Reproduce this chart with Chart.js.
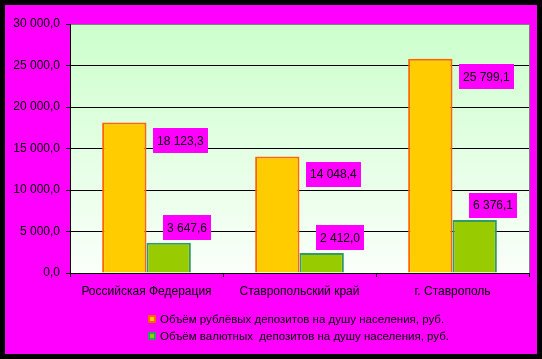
<!DOCTYPE html>
<html>
<head>
<meta charset="utf-8">
<script src="https://cdn.jsdelivr.net/npm/chart.js@4"></script>
<style>
  html, body { margin: 0; padding: 0; background: #000; }
  #wrap { position: absolute; left: 5px; top: 5px; width: 532px; height: 349px; background: #FF00FF; }
</style>
</head>
<body>
<div id="wrap"><canvas id="depositosChart" width="532" height="349"></canvas></div>
<script>
// categorias e valores
const regioes = ['Российская Федерация', 'Ставропольский край', 'г. Ставрополь'];
const rublevye = [18123.3, 14048.4, 25799.1];
const valyutnye = [3647.6, 2412.0, 6376.1];
const nomesSeries = [
  'Объём рублёвых депозитов на душу населения, руб.',
  'Объём валютных  депозитов на душу населения, руб.'
];
const yMax = 30000;
const yStep = 5000;

const fonte = '"Liberation Sans", Arial, sans-serif';

// formata 18123.3 -> "18 123,3"
function formatar(v) {
  let partes = v.toFixed(1).split('.');
  partes[0] = partes[0].replace(/\B(?=(\d{3})+(?!\d))/g, ' ');
  return partes[0] + ',' + partes[1];
}

// fundo da área do gráfico (degradê verde) e borda cinza
const fundoPlugin = {
  id: 'fundo',
  beforeDraw(chart) {
    const { ctx, chartArea: a } = chart;
    const g = ctx.createLinearGradient(0, a.top, 0, a.bottom);
    g.addColorStop(0, '#CCFFCC');
    g.addColorStop(1, '#FAFFFA');
    ctx.save();
    ctx.fillStyle = g;
    ctx.fillRect(a.left, a.top, a.right - a.left, a.bottom - a.top);
    ctx.restore();
  },
  afterDraw(chart) {
    const { ctx, chartArea: a } = chart;
    ctx.save();
    ctx.strokeStyle = '#808080';
    ctx.lineWidth = 1;
    ctx.beginPath();
    ctx.moveTo(a.right + 0.5, a.top);
    ctx.lineTo(a.right + 0.5, a.bottom);
    ctx.stroke();

    // legenda alinhada à esquerda, em duas linhas
    ctx.font = '11.5px ' + fonte;
    ctx.textBaseline = 'middle';
    chart.data.datasets.forEach((ds, i) => {
      const x = a.left + 78;
      const y = a.bottom + 46 + i * 17;
      ctx.fillStyle = ds.borderColor;
      ctx.fillRect(x, y - 4, 8, 8);
      ctx.fillStyle = ds.backgroundColor;
      ctx.fillRect(x + 2, y - 2, 4, 4);
      ctx.fillStyle = '#000';
      ctx.fillText(ds.label, x + 12, y + 1);
    });
    ctx.restore();
  }
};

// rótulos dos valores em caixas magenta
const rotulosPlugin = {
  id: 'rotulos',
  afterDatasetsDraw(chart) {
    const ctx = chart.ctx;
    ctx.save();
    ctx.font = '12px ' + fonte;
    ctx.textBaseline = 'middle';
    chart.data.datasets.forEach((ds, i) => {
      const meta = chart.getDatasetMeta(i);
      meta.data.forEach((bar, j) => {
        const txt = formatar(ds.data[j]);
        const w = ctx.measureText(txt).width + 8;
        const h = 25;
        let x, yc;
        if (i === 0) {
          x = bar.x + bar.width / 2 + 6;
          yc = bar.y + 18;
        } else {
          x = bar.x - bar.width / 2 + 16;
          yc = bar.y - 15;
        }
        ctx.fillStyle = '#FF00FF';
        ctx.fillRect(Math.round(x), Math.round(yc - h / 2), Math.round(w), h);
        ctx.fillStyle = '#000';
        ctx.fillText(txt, Math.round(x) + 4, Math.round(yc) + 1);
      });
    });
    ctx.restore();
  }
};

var ctx = document.getElementById('depositosChart').getContext('2d');
var chart = new Chart(ctx, {
  type: 'bar',
  data: {
    labels: regioes,
    datasets: [{
      label: nomesSeries[0],
      data: rublevye,
      backgroundColor: '#FFCC00',
      borderColor: '#FF6600',
      borderWidth: 2
    }, {
      label: nomesSeries[1],
      data: valyutnye,
      backgroundColor: '#99CC00',
      borderColor: '#339966',
      borderWidth: 2
    }]
  },
  options: {
    responsive: false,
    animation: false,
    categoryPercentage: 0.58,
    barPercentage: 1.0,
    layout: { padding: { top: 19, right: 8, left: 0, bottom: 51 } },
    plugins: {
      tooltip: { enabled: false },
      legend: { display: false }
    },
    scales: {
      x: {
        grid: { offset: true, drawOnChartArea: false, drawTicks: true, tickLength: 4, color: '#000' },
        border: { color: '#000', width: 1 },
        ticks: {
          color: '#000',
          padding: 7,
          font: { family: fonte, size: 12 }
        },
        afterFit(scale) { scale.height = 30; }
      },
      y: {
        min: 0,
        max: yMax,
        grid: {
          color: c => (c.tick && c.tick.value === yMax) ? '#808080' : '#000',
          tickColor: '#000',
          tickLength: 4
        },
        border: { color: '#000', width: 1 },
        ticks: {
          stepSize: yStep,
          color: '#000',
          padding: 6,
          font: { family: fonte, size: 12 },
          callback: v => formatar(v)
        },
        afterFit(scale) { scale.width = 65; }
      }
    }
  },
  plugins: [fundoPlugin, rotulosPlugin]
});
</script>
</body>
</html>
